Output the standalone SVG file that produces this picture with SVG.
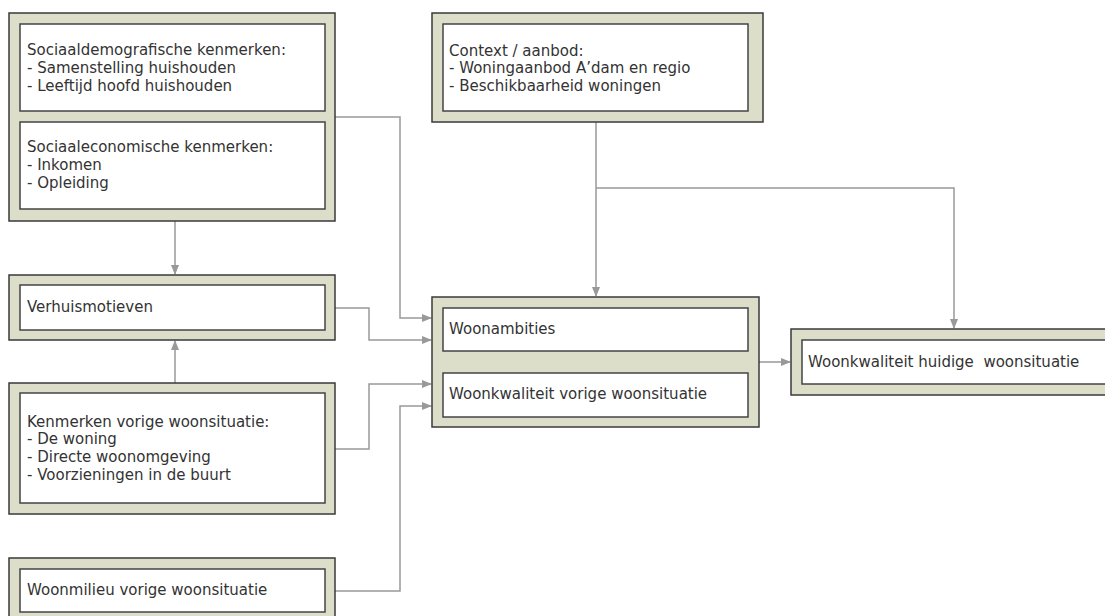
<svg xmlns="http://www.w3.org/2000/svg" width="1105" height="616" viewBox="0 0 1105 616">
<style>
.outer{fill:#dcdec9;stroke:#3a3a3a;stroke-width:1.5}
.inner{fill:#ffffff;stroke:#444;stroke-width:1.5}
text{font-family:"DejaVu Sans",Verdana,sans-serif;font-size:15px;fill:#333}
.c{fill:none;stroke:#999;stroke-width:1.5}
</style>
<defs>
<marker id="ah" markerWidth="10" markerHeight="8" refX="9" refY="4" orient="auto" markerUnits="userSpaceOnUse">
<path d="M0,0 L10,4 L0,8 Z" fill="#999"/>
</marker>
</defs>
<rect width="1105" height="616" fill="#fff"/>
<g id="connectors">
<path class="c" d="M596,122 V296" marker-end="url(#ah)"/>
<path class="c" d="M596,188 H954 V328" marker-end="url(#ah)"/>
<path class="c" d="M175,221 V274" marker-end="url(#ah)"/>
<path class="c" d="M175,383 V341" marker-end="url(#ah)"/>
<path class="c" d="M335,117 H400 V318 H431" marker-end="url(#ah)"/>
<path class="c" d="M335,308 H369 V340 H431" marker-end="url(#ah)"/>
<path class="c" d="M335,449 H369 V384 H431" marker-end="url(#ah)"/>
<path class="c" d="M335,591 H400 V406 H431" marker-end="url(#ah)"/>
<path class="c" d="M759,362 H790" marker-end="url(#ah)"/>
</g>
<g id="node-sociaal">
<rect class="outer" x="9" y="13" width="326" height="208"/>
<rect class="inner" x="20" y="24" width="305" height="87"/>
<text x="27" y="55">Sociaaldemografische kenmerken:</text>
<text x="27" y="73">- Samenstelling huishouden</text>
<text x="27" y="91">- Leeftijd hoofd huishouden</text>
<rect class="inner" x="20" y="122" width="305" height="87"/>
<text x="27" y="152">Sociaaleconomische kenmerken:</text>
<text x="27" y="170">- Inkomen</text>
<text x="27" y="188">- Opleiding</text>
</g>
<g id="node-context">
<rect class="outer" x="432" y="13" width="331" height="109"/>
<rect class="inner" x="443" y="24" width="305" height="87"/>
<text x="449" y="56">Context / aanbod:</text>
<text x="449" y="73">- Woningaanbod A’dam en regio</text>
<text x="449" y="91">- Beschikbaarheid woningen</text>
</g>
<g id="node-verhuismotieven">
<rect class="outer" x="9" y="275" width="326" height="65"/>
<rect class="inner" x="20" y="285" width="305" height="45"/>
<text x="27" y="312">Verhuismotieven</text>
</g>
<g id="node-kenmerken">
<rect class="outer" x="9" y="383" width="326" height="131"/>
<rect class="inner" x="20" y="393" width="305" height="110"/>
<text x="27" y="427">Kenmerken vorige woonsituatie:</text>
<text x="27" y="444">- De woning</text>
<text x="27" y="462">- Directe woonomgeving</text>
<text x="27" y="480">- Voorzieningen in de buurt</text>
</g>
<g id="node-woonmilieu">
<rect class="outer" x="9" y="558" width="326" height="66"/>
<rect class="inner" x="20" y="569" width="305" height="43"/>
<text x="27" y="595">Woonmilieu vorige woonsituatie</text>
</g>
<g id="node-central">
<rect class="outer" x="432" y="297" width="327" height="130"/>
<rect class="inner" x="443" y="308" width="305" height="43"/>
<text x="449" y="334">Woonambities</text>
<rect class="inner" x="443" y="373" width="305" height="44"/>
<text x="449" y="399">Woonkwaliteit vorige woonsituatie</text>
</g>
<g id="node-huidige">
<rect class="outer" x="791" y="329" width="330" height="66"/>
<rect class="inner" x="802" y="340" width="310" height="44"/>
<text x="808" y="367" xml:space="preserve">Woonkwaliteit huidige  woonsituatie</text>
</g>
</svg>
